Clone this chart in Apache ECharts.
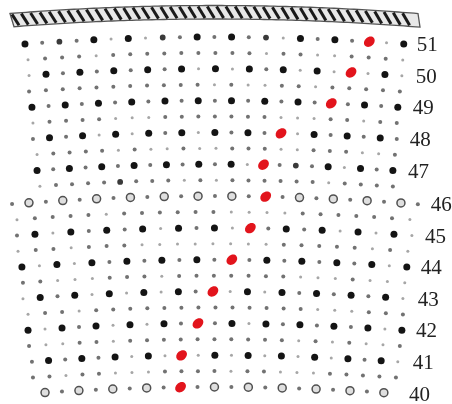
<!DOCTYPE html>
<html>
<head>
<meta charset="utf-8">
<script src="https://cdn.jsdelivr.net/npm/echarts@6/dist/echarts.min.js"></script>
<style>
  html, body { margin: 0; padding: 0; background: #fff; }
  #c { width: 452px; height: 404px; }
</style>
</head>
<body>
<div id="c"></div>
<script>
// Lattice rows, top to bottom. Whole numbers are labelled rows, .5 rows sit between them.
const rows = [51, 50.5, 50, 49.5, 49, 48.5, 48, 47.5, 47, 46.5, 46, 45.5,
              45, 44.5, 44, 43.5, 43, 42.5, 42, 41.5, 41, 40.5, 40];

// Lattice column of the first and last dot in each row.
const rowFirst = [-0.03, 0.15, 0.21, 0.21, 0.38, 0.44, 0.44, 0.68, 0.68, 0.85, -0.79, -0.50,
                  -0.50, -0.44, -0.21, -0.15, -0.15, 0.15, 0.15, 0.21, 0.38, 0.44, 1.15];
const rowLast  = [22.26, 22.20, 22.15, 22.03, 21.91, 21.85, 21.85, 21.74, 21.62, 21.62, 23.09, 22.62,
                  22.74, 22.50, 22.44, 22.32, 22.21, 22.21, 22.15, 22.03, 21.91, 21.80, 21.09];

// Dot kinds along each row: B large, m medium, s small, t faint, O ring, R marked (red).
const rowDots = [
  'Bsms BtBt msBs Bsmt BsBs RtB',
  'tsss tsss ssss ssts stts sst',
  'tBsB sBsB sBtB tBsB tBtR tBt',
  'ssss ssss ssst stts stss sss',
  'BsBs BsBs BsBs BsBs BsRs BsB',
  'tsss sttt ssss ssst ttss tss',
  'sBsB tBtB sBtB sBsR tBsB sBs',
  'tsss stst tstt ssst tsss tts',
  'BsBs BsBs BsBs BtRs msBt BsB',
  'tsss smss stst ssss ssts sss',
  'sOsO sOsO sOsO sOsR sOsO sOsO s',
  'tsss stss ssss tttt ssss sst',
  'sBtB sBsB tBsB tRsB sBtB tBt',
  'tsst ssst tttt ttts ssss tst',
  'BtBt BsBs BsBs RsBs BsBs BtB',
  'sstt tsss tsss ssss ttts ttt',
  'tBsB tBtB tBsR tBtB sBsB sBt',
  'tsst ssss ssss ssss sttt sss',
  'BtBs BtBt BsRs BtBs BsBs BtB',
  'stts stss ssss ssss tsts tts',
  'sBsB sBtB tRtB tBtB tBtB sBt',
  'ssts sttt ssss tsst ttss sss',
  'OsOs OsOs RsOs OsOs OsOs O'
];

const KINDS = 'BmstOR';

// Rows bow upward toward the middle of the field.
const BOW_PX = 7.5, BOW_MID = 11.1, BOW_HALF = 11.5;
function bow(col) {
  const u = (col - BOW_MID) / BOW_HALF;
  return BOW_PX * u * u;
}

const dotData = [];
rows.forEach(function (r, i) {
  const pat = rowDots[i].replace(/ /g, '');
  const n = pat.length;
  const step = (rowLast[i] - rowFirst[i]) / (n - 1);
  for (let j = 0; j < n; j++) {
    dotData.push([rowFirst[i] + j * step, r, KINDS.indexOf(pat[j])]);
  }
});

// Each label sits just past the wider of its row and the half row above it.
const labelData = [];
rows.forEach(function (r, i) {
  if (!Number.isInteger(r)) return;
  const edge = i > 0 ? Math.max(rowLast[i], rowLast[i - 1]) : rowLast[i];
  labelData.push([edge, r]);
});

const DOT_LOOK = {
  B: { r: 3.5, c: '#141414' },
  m: { r: 2.9, c: '#3a3a3a' },
  s: { r: 2.0, c: '#727272' },
  t: { r: 1.5, c: '#a6a6a6' }
};

function renderDot(params, api) {
  const col = api.value(0);
  const p = api.coord([col, api.value(1)]);
  const x = p[0], y = p[1] + bow(col);
  const k = KINDS[api.value(2)];
  if (k === 'R') {
    return {
      type: 'ellipse', x: x, y: y, rotation: 0.7,
      shape: { cx: 0, cy: 0, rx: 5.9, ry: 4.6 },
      style: { fill: '#e2141c' }
    };
  }
  if (k === 'O') {
    return {
      type: 'circle',
      shape: { cx: x, cy: y, r: 4.0 },
      style: { fill: 'rgba(80,80,80,0.18)', stroke: '#505050', lineWidth: 1.5 }
    };
  }
  const look = DOT_LOOK[k];
  return {
    type: 'circle',
    shape: { cx: x, cy: y, r: look.r },
    style: { fill: look.c }
  };
}

function renderLabel(params, api) {
  const col = api.value(0);
  const r = api.value(1);
  const p = api.coord([col, r]);
  return {
    type: 'text',
    x: p[0] + 13,
    y: p[1] + bow(col) + 1.5,
    style: {
      text: String(r),
      font: '21px "Liberation Serif", "DejaVu Serif", serif',
      fill: '#222',
      textAlign: 'left',
      textVerticalAlign: 'middle',
      align: 'left',
      verticalAlign: 'middle'
    }
  };
}

// Hatched band along the top edge.
function bandTop(x) {
  const u = (x - 214) / 204;
  return 5.5 + 8 * u * u;
}
const BAND_H = 13.5;
const bandChildren = [];
const outline = [];
for (let x = 10; x <= 418; x += 4) outline.push([x, bandTop(x)]);
outline.push([418, bandTop(418)]);
for (let x = 420; x >= 14; x -= 4) outline.push([x, bandTop(x) + BAND_H]);
outline.push([14, bandTop(14) + BAND_H]);
bandChildren.push({
  type: 'polygon', shape: { points: outline },
  style: { fill: '#e8e8e8', stroke: '#555', lineWidth: 1.3 }
});
for (let x = 12; x <= 410; x += 9.3) {
  bandChildren.push({
    type: 'line',
    shape: { x1: x, y1: bandTop(x) + 1, x2: x + 7, y2: bandTop(x + 7) + BAND_H - 1 },
    style: { stroke: '#1a1a1a', lineWidth: 3 }
  });
}

const chart = echarts.init(document.getElementById('c'));
chart.setOption({
  animation: false,
  backgroundColor: '#fff',
  grid: { left: 0, right: 0, top: 37, bottom: 17 },
  xAxis: { type: 'value', min: -1.5, max: 25.1, show: false },
  yAxis: { type: 'value', min: 40, max: 51, show: false },
  graphic: [{ type: 'group', children: bandChildren }],
  series: [
    { type: 'custom', renderItem: renderDot, data: dotData, clip: false, silent: true },
    { type: 'custom', renderItem: renderLabel, data: labelData, clip: false, silent: true }
  ]
});
</script>
</body>
</html>
